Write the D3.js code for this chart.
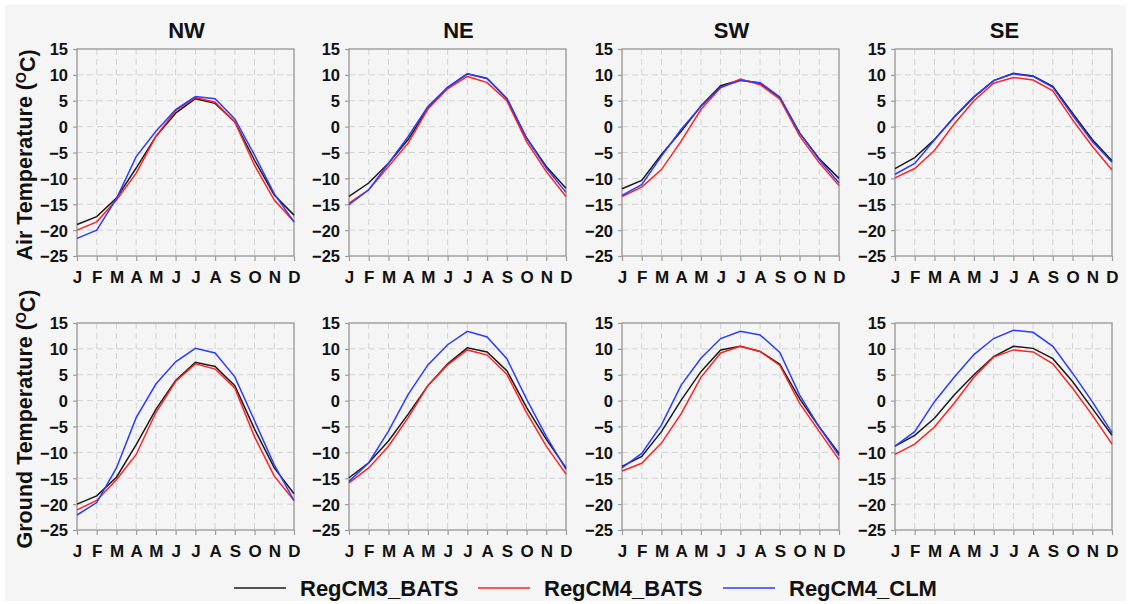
<!DOCTYPE html>
<html>
<head>
<meta charset="utf-8">
<script src="https://cdn.jsdelivr.net/npm/d3@7"></script>
<style>
  body { margin: 0; background: #fff; }
  svg { display: block; font-family: "Liberation Sans", Arial, sans-serif; }
</style>
</head>
<body>
<svg id="chart" width="1130" height="604"></svg>
<script>
// month ticks, regions, series
var months = ["J", "F", "M", "A", "M", "J", "J", "A", "S", "O", "N", "D"];
var regions = ["NW", "NE", "SW", "SE"];
var rowTitles = ["Air Temperature", "Ground Temperature"];
var seriesNames = ["RegCM3_BATS", "RegCM4_BATS", "RegCM4_CLM"];
var seriesColors = ["#1a1a1a", "#ff2424", "#2b3dff"];
var yTicks = [15, 10, 5, 0, -5, -10, -15, -20, -25];

// air temperature, each: [RegCM3_BATS, RegCM4_BATS, RegCM4_CLM]
var airNW = [
    [-18.9, -17.4, -13.8, -8.0, -1.9, 2.6, 5.4, 4.5, 0.9, -6.5, -13.2, -17.1],
    [-20.0, -18.4, -14.2, -9.0, -1.9, 3.1, 5.6, 4.7, 0.9, -7.5, -14.2, -18.4],
    [-21.6, -20.0, -13.9, -5.8, -0.9, 3.3, 5.8, 5.4, 1.5, -5.5, -13.0, -18.4]
];
var airNE = [
    [-13.5, -10.9, -7.1, -2.5, 3.6, 7.6, 10.2, 9.3, 5.4, -2.2, -7.7, -11.9],
    [-14.8, -12.2, -7.7, -3.2, 3.4, 7.3, 9.7, 8.5, 5.0, -2.9, -8.7, -13.5],
    [-15.1, -12.2, -7.1, -1.9, 3.9, 7.6, 10.2, 9.3, 5.5, -2.2, -8.0, -12.7]
];
var airSW = [
    [-12.0, -10.4, -5.4, -0.9, 4.0, 7.9, 9.0, 8.4, 5.6, -1.2, -6.2, -10.0],
    [-13.5, -11.7, -8.3, -2.8, 3.3, 7.5, 9.2, 8.1, 5.3, -1.8, -7.0, -11.4],
    [-13.3, -11.2, -5.7, -0.5, 3.9, 7.6, 8.9, 8.5, 5.7, -1.2, -6.4, -10.9]
];
var airSE = [
    [-8.1, -6.0, -2.5, 1.8, 5.7, 8.9, 10.3, 9.8, 7.8, 2.6, -2.5, -6.6],
    [-9.9, -8.1, -4.6, 0.5, 5.0, 8.4, 9.5, 9.0, 6.9, 1.3, -3.8, -8.4],
    [-9.2, -7.1, -2.6, 1.9, 5.8, 8.9, 10.2, 9.7, 7.6, 2.2, -2.9, -6.9]
];
// ground temperature
var groundNW = [
    [-20.0, -18.4, -14.8, -8.5, -1.7, 3.9, 7.4, 6.6, 2.9, -5.5, -13.0, -18.0],
    [-21.1, -19.3, -15.3, -10.4, -2.3, 3.7, 7.1, 6.1, 2.4, -7.0, -14.6, -19.3],
    [-22.1, -19.7, -13.0, -3.3, 3.2, 7.5, 10.1, 9.2, 4.6, -3.9, -12.4, -19.3]
];
var groundNE = [
    [-14.9, -12.0, -7.8, -2.6, 2.9, 7.1, 10.2, 9.4, 5.8, -1.3, -7.5, -13.0],
    [-15.9, -13.0, -8.8, -3.3, 2.9, 6.9, 9.8, 8.8, 5.1, -2.3, -8.8, -14.2],
    [-15.6, -12.0, -5.9, 1.2, 6.9, 10.8, 13.4, 12.3, 8.1, 0.3, -6.9, -13.3]
];
var groundSW = [
    [-12.7, -10.8, -6.0, 0.1, 5.6, 9.8, 10.5, 9.5, 7.0, 0.4, -5.1, -10.2],
    [-13.6, -12.1, -8.2, -2.5, 4.5, 9.2, 10.5, 9.5, 6.8, -0.5, -6.0, -11.4],
    [-13.0, -10.2, -4.7, 3.0, 8.2, 12.0, 13.4, 12.7, 9.3, 1.1, -5.1, -10.6]
];
var groundSE = [
    [-8.8, -6.7, -3.4, 1.1, 5.0, 8.5, 10.5, 10.1, 8.1, 3.7, -1.5, -6.7],
    [-10.4, -8.4, -5.1, -0.5, 4.5, 8.4, 9.8, 9.4, 7.1, 2.4, -2.8, -8.4],
    [-8.8, -6.0, -0.2, 4.5, 8.9, 12.0, 13.6, 13.2, 10.5, 5.3, -0.2, -6.2]
];

var panelData = [
    [airNW, airNE, airSW, airSE],
    [groundNW, groundNE, groundSW, groundSE]
];

var svg = d3.select("#chart");
svg.append("rect").attr("x", 5).attr("y", 5).attr("width", 1121).attr("height", 596)
    .attr("fill", "#f5f5f5");

var colLeft = [77, 349, 622, 895];
var rowTop = [49, 323];
var titleMid = [155, 419];
var pw = 217, ph = 207;

var x = d3.scaleLinear().domain([0, 11]).range([0, pw]);
var y = d3.scaleLinear().domain([-25, 15]).range([ph, 0]);

var line = d3.line()
    .x(function(d, i) { return x(i); })
    .y(function(d) { return y(d); });

for (var r = 0; r < 2; r++) {
    for (var c = 0; c < 4; c++) {
        var g = svg.append("g")
            .attr("transform", "translate(" + colLeft[c] + "," + rowTop[r] + ")");

        // dashed grid
        g.selectAll(".vg").data(d3.range(1, 11)).enter().append("line")
            .attr("x1", function(d) { return x(d); }).attr("x2", function(d) { return x(d); })
            .attr("y1", 0).attr("y2", ph)
            .attr("stroke", "#d2d2d2").attr("stroke-dasharray", "6,4");
        g.selectAll(".hg").data(yTicks.slice(1, -1)).enter().append("line")
            .attr("x1", 0).attr("x2", pw)
            .attr("y1", function(d) { return y(d); }).attr("y2", function(d) { return y(d); })
            .attr("stroke", "#d2d2d2").attr("stroke-dasharray", "6,4");

        g.append("rect").attr("width", pw).attr("height", ph)
            .attr("fill", "none").attr("stroke", "#9c9c9c").attr("stroke-width", 1.4);

        // axes
        var xa = g.append("g").attr("transform", "translate(0," + ph + ")")
            .call(d3.axisBottom(x).tickValues(d3.range(12))
                .tickFormat(function(d) { return months[d]; }).tickSize(5).tickPadding(10));
        var ya = g.append("g")
            .call(d3.axisLeft(y).tickValues(yTicks).tickSize(4).tickPadding(5));
        [xa, ya].forEach(function(a) {
            a.select(".domain").remove();
            a.selectAll("line").attr("stroke", "#9c9c9c").attr("stroke-width", 1.2);
            a.selectAll("text").attr("fill", "#111")
                .style("font-weight", "bold").style("font-family", "'Liberation Sans', Arial, sans-serif");
        });
        xa.selectAll("text").style("font-size", "17px");
        ya.selectAll("text").style("font-size", "16.5px").attr("dy", "0.36em");

        // lines
        g.selectAll(".series").data(panelData[r][c]).enter().append("path")
            .attr("d", line)
            .attr("fill", "none")
            .attr("stroke", function(d, i) { return seriesColors[i]; })
            .attr("stroke-width", 1.5);

        if (r == 0) {
            svg.append("text").attr("x", colLeft[c] + pw / 2 + 1).attr("y", 38)
                .attr("text-anchor", "middle").style("font-size", "22px").style("font-weight", "bold")
                .attr("fill", "#111").text(regions[c]);
        }
    }
    var t = svg.append("text")
        .attr("transform", "translate(32," + titleMid[r] + ") rotate(-90)")
        .attr("text-anchor", "middle").style("font-size", "21.5px").style("font-weight", "bold")
        .attr("fill", "#111");
    t.append("tspan").text(rowTitles[r] + " (");
    t.append("tspan").attr("dy", "-0.45em").style("font-size", "14px").text("O");
    t.append("tspan").attr("dy", "0.45em").text("C)");
}

// legend
var legX = [234, 478, 723];
var leg = svg.selectAll(".leg").data(seriesNames).enter().append("g")
    .attr("transform", function(d, i) { return "translate(" + legX[i] + ",588)"; });
leg.append("line").attr("x1", 0).attr("x2", 52)
    .attr("stroke", function(d, i) { return seriesColors[i]; }).attr("stroke-width", 1.5);
leg.append("text").attr("x", 66).attr("dy", "0.36em")
    .style("font-size", "22px").style("font-weight", "bold").attr("fill", "#111")
    .text(function(d) { return d; });
</script>
</body>
</html>
